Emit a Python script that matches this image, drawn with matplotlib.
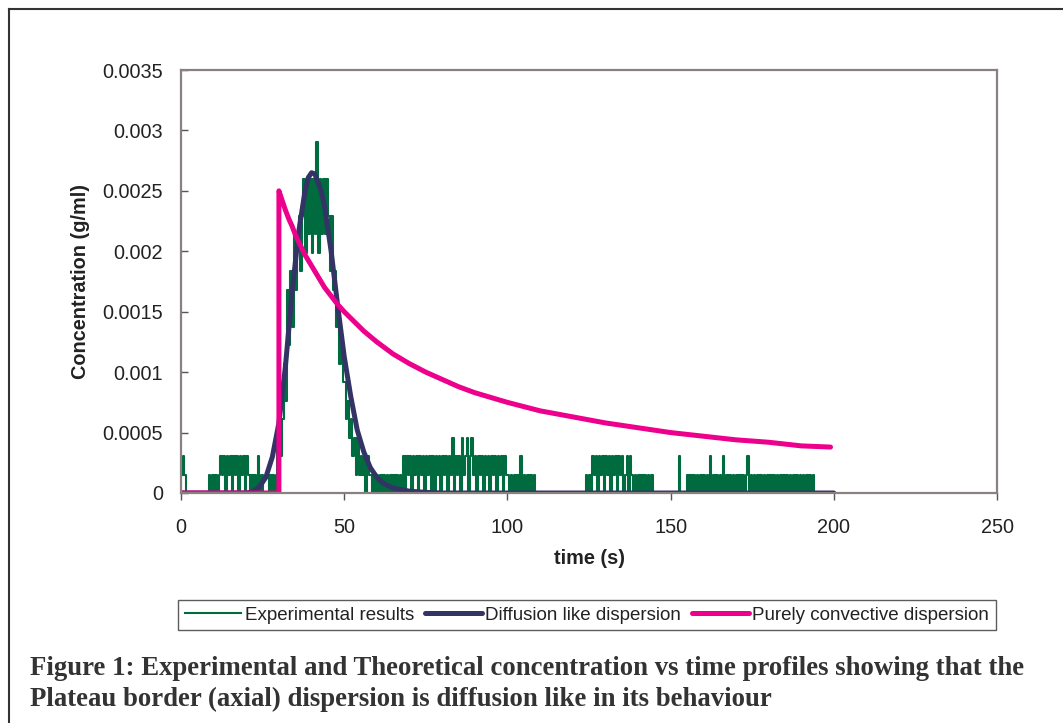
import numpy as np
import matplotlib
matplotlib.use("Agg")
from matplotlib import pyplot as plt
from matplotlib.lines import Line2D

sample_step = 0.5
level_size = 0.000153   # g/ml per detector level
exp_levels = [
    1, 2, 1, 0, 0, 0, 0, 0, 0, 0, 0, 0, 0, 0, 0, 0, 0, 1, 0, 1,          # 0-10 s
    0, 1, 0, 1, 2, 1, 2, 0, 2, 1, 2, 0, 2, 1, 2, 0, 2, 1, 2, 0,          # 10-20
    2, 1, 0, 1, 0, 1, 0, 2, 0, 1, 0, 0, 0, 0, 1, 0, 1, 0, 1, 3,          # 20-30
    4, 2, 4, 7, 5, 11, 8, 12, 9, 14, 11, 14, 15, 12, 15, 17, 13, 17, 14, 17,   # 30-40
    13, 17, 14, 19, 13, 17, 14, 17, 14, 17, 15, 12, 15, 11, 12, 9, 10, 7, 8, 6,  # 40-50
    6, 4, 5, 3, 4, 2, 3, 1, 3, 1, 2, 1, 2, 0, 2, 1, 1, 0, 1, 0,          # 50-60
    1, 0, 1, 0, 1, 0, 1, 0, 1, 0, 1, 0, 1, 0, 1, 0, 2, 0, 2, 1,          # 60-70
    2, 0, 2, 1, 2, 0, 2, 1, 2, 0, 2, 1, 2, 0, 2, 0, 2, 1, 2, 0,          # 70-80
    2, 1, 2, 0, 2, 1, 3, 0, 2, 1, 2, 0, 3, 1, 2, 3, 0, 2, 3, 1,          # 80-90
    2, 0, 2, 1, 2, 0, 2, 1, 2, 0, 2, 1, 2, 0, 2, 1, 2, 0, 2, 1,          # 90-100
    1, 0, 1, 0, 1, 0, 1, 0, 2, 0, 1, 0, 1, 0, 1, 0, 1, 0, 0, 0,          # 100-110
    0, 0, 0, 0, 0, 0, 0, 0, 0, 0, 0, 0, 0, 0, 0, 0, 0, 0, 0, 0,          # 110-120
    0, 0, 0, 0, 0, 0, 0, 0, 1, 0, 1, 0, 2, 1, 2, 0, 2, 1, 2, 0,          # 120-130
    2, 1, 2, 0, 2, 1, 2, 0, 2, 1, 2, 0, 1, 2, 0, 2, 1, 0, 1, 0,          # 130-140
    1, 0, 1, 0, 1, 0, 1, 0, 1, 0, 0, 0, 0, 0, 0, 0, 0, 0, 0, 0,          # 140-150
    0, 0, 0, 0, 0, 2, 0, 0, 0, 0, 1, 0, 1, 0, 1, 0, 1, 0, 1, 0,          # 150-160
    1, 0, 1, 0, 2, 0, 1, 0, 1, 0, 1, 0, 2, 0, 1, 0, 1, 0, 1, 0,          # 160-170
    1, 0, 1, 0, 1, 0, 1, 2, 0, 1, 0, 1, 0, 1, 0, 1, 0, 1, 0, 1,          # 170-180
    0, 1, 0, 1, 0, 1, 0, 1, 0, 1, 0, 1, 0, 1, 0, 1, 0, 1, 0, 1,          # 180-190
    0, 1, 0, 1, 0, 1, 0, 1, 0,                                           # 190-194
]

# diffusion like dispersion model
diff_t = [0, 20, 22, 24, 26, 28, 30, 32, 34, 36, 38, 39, 40, 41, 42, 43, 44,
          46, 48, 50, 52, 54, 56, 58, 60, 62, 65, 70, 75, 80, 200]
diff_c = [0, 0, 0.00001, 0.00005, 0.00013, 0.0003, 0.00058, 0.00105, 0.00165,
          0.00215, 0.0025, 0.00261, 0.00265, 0.00264, 0.00257, 0.00249, 0.00237,
          0.002, 0.00155, 0.00113, 0.0008, 0.00052, 0.00034, 0.00021, 0.00013,
          0.00008, 0.00004, 0.000015, 0.000005, 0, 0]

# purely convective dispersion model
conv_t = [0, 30, 30, 31, 32, 33, 34, 35, 36, 38, 40, 42, 44, 46, 48, 50, 53,
          56, 60, 65, 70, 75, 80, 85, 90, 100, 110, 120, 130, 140, 150, 160,
          170, 180, 190, 199]
conv_c = [0, 0, 0.0025, 0.00242, 0.00234, 0.00227, 0.00221, 0.00214, 0.00208,
          0.00197, 0.00188, 0.00179, 0.0017, 0.00163, 0.00156, 0.0015, 0.00142,
          0.00134, 0.00125, 0.00115, 0.00107, 0.001, 0.00094, 0.00088, 0.00083,
          0.00075, 0.00068, 0.00063, 0.00058, 0.00054, 0.0005, 0.00047,
          0.00044, 0.00042, 0.00039, 0.00038]

x_ticks = [0, 50, 100, 150, 200, 250]
y_ticks = [0, 0.0005, 0.001, 0.0015, 0.002, 0.0025, 0.003, 0.0035]
y_tick_labels = ['0', '0.0005', '0.001', '0.0015', '0.002', '0.0025', '0.003', '0.0035']

caption_lines = [
    'Figure 1: Experimental and Theoretical concentration vs time profiles showing that the',
    'Plateau border (axial) dispersion is diffusion like in its behaviour',
]

plt.rcParams['font.family'] = ['Liberation Sans', 'DejaVu Sans']

exp_t = np.arange(len(exp_levels)) * sample_step
exp_c = np.array(exp_levels) * level_size

fig = plt.figure(figsize=(10.63, 7.23), dpi=100)
ax = fig.add_axes([181 / 1063, 1 - 493 / 723, (997 - 181) / 1063, (493 - 70) / 723])

ax.plot(exp_t, exp_c, color='#006b3f', lw=1.5, drawstyle='steps-post',
        label='Experimental results')
ax.plot(diff_t, diff_c, color='#333366', lw=3.6, solid_capstyle='round',
        label='Diffusion like dispersion')
ax.plot(conv_t, conv_c, color='#ec008c', lw=3.6, solid_capstyle='round',
        label='Purely convective dispersion')

ax.set_xlim(0, 250)
ax.set_ylim(0, 0.0035)
ax.set_xticks(x_ticks)
ax.set_xticklabels([str(v) for v in x_ticks])
ax.set_yticks(y_ticks)
ax.set_yticklabels(y_tick_labels)
ax.tick_params(axis='x', direction='out', length=5, width=1, color='#555555',
               labelsize=14.3, labelcolor='#222222', pad=13)
ax.tick_params(axis='y', direction='in', length=5, width=1, color='#555555',
               labelsize=14.3, labelcolor='#222222', pad=13)
for sp in ax.spines.values():
    sp.set_color('#8a8080')
    sp.set_linewidth(1.6)

ax.set_xlabel('time (s)', fontsize=14.3, fontweight='bold', color='#222222', labelpad=9)
ax.set_ylabel('Concentration (g/ml)', fontsize=14.3, fontweight='bold', color='#222222',
              labelpad=9)

leg = ax.legend(loc='center', bbox_to_anchor=(587 / 1063, 1 - 615 / 723),
                bbox_transform=fig.transFigure, ncol=3, fontsize=13.5,
                frameon=True, fancybox=False, handlelength=3.0,
                handletextpad=0.2, columnspacing=0.6, borderpad=0.35,
                borderaxespad=0)
leg.get_frame().set_edgecolor('#333333')
leg.get_frame().set_linewidth(1.0)
for txt in leg.get_texts():
    txt.set_color('#222222')

for i, line in enumerate(caption_lines):
    fig.text(30 / 1063, 1 - (675 + 31 * i) / 723, line, ha='left', va='baseline',
             fontsize=19.3, fontweight='bold', family='Liberation Serif',
             color='#333333')

# outer frame (only the left and top edges fall inside the picture)
bx = 9 / 1063
by = 1 - 9 / 723
fig.add_artist(Line2D([bx, bx], [0, by], transform=fig.transFigure,
                      color='#333333', lw=1.5))
fig.add_artist(Line2D([bx, 1], [by, by], transform=fig.transFigure,
                      color='#333333', lw=1.5))

fig.savefig('out.png', dpi=100)
